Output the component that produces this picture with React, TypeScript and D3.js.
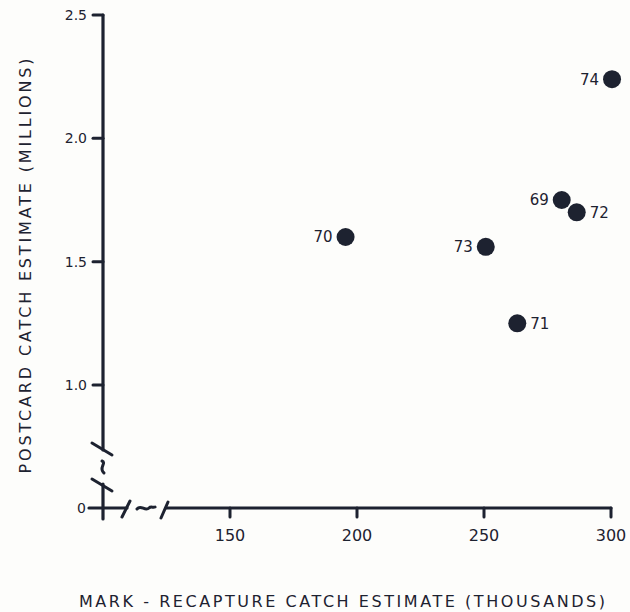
import * as d3 from "d3";
import React, { useEffect, useRef } from "react";

// data
const years = ["69", "70", "71", "72", "73", "74"];
const markRecapture = [280.6, 195.5, 263.1, 286.5, 250.7, 300.4]; // thousands
const postcard = [1.75, 1.6, 1.25, 1.7, 1.56, 2.24]; // millions
const labelSide = ["left", "left", "right", "right", "left", "left"];

const xTicks = [150, 200, 250, 300];
const xTickLabels = ["150", "200", "250", "300"];
const yTicks = [0, 1.0, 1.5, 2.0, 2.5];
const yTickLabels = ["0", "1.0", "1.5", "2.0", "2.5"];

const INK = "#1d2230";
const FONT = "'DejaVu Sans', sans-serif";

export default function App() {
  const ref = useRef<SVGSVGElement>(null);

  useEffect(() => {
    const svg = d3.select(ref.current);
    svg.selectAll("*").remove();

    svg.append("rect").attr("width", 630).attr("height", 612).attr("fill", "#fdfdfb");

    var x = d3.scaleLinear().domain([100, 300]).range([103, 611]);
    // broken axis: 0 sits one half-unit below 1.0
    var y = d3.scaleLinear().domain([0, 1.0, 2.5]).range([508, 385, 15]);

    var g = svg.append("g").attr("stroke", INK).attr("fill", "none").attr("stroke-linecap", "round");

    // y axis with break
    var x0 = x(100);
    g.append("line").attr("x1", x0).attr("x2", x0).attr("y1", y(2.5)).attr("y2", 450).attr("stroke-width", 3.2);
    g.append("line").attr("x1", x0).attr("x2", x0).attr("y1", 484).attr("y2", 519).attr("stroke-width", 3.2);
    g.append("line").attr("x1", x0 - 11).attr("y1", 443).attr("x2", x0 + 9).attr("y2", 455).attr("stroke-width", 3);
    g.append("line").attr("x1", x0 - 11).attr("y1", 479).attr("x2", x0 + 9).attr("y2", 491).attr("stroke-width", 3);
    g.append("path")
      .attr("d", `M${x0 - 1},461 C${x0 + 4},463 ${x0 - 5},468 ${x0 + 1},473`)
      .attr("stroke-width", 3);

    // x axis with break
    var y0 = y(0);
    g.append("line").attr("x1", 89).attr("x2", 127).attr("y1", y0).attr("y2", y0).attr("stroke-width", 3.2);
    g.append("line").attr("x1", 166).attr("x2", x(300)).attr("y1", y0).attr("y2", y0).attr("stroke-width", 3.2);
    g.append("line").attr("x1", 122).attr("y1", y0 + 9).attr("x2", 130).attr("y2", y0 - 7).attr("stroke-width", 3);
    g.append("line").attr("x1", 161).attr("y1", y0 + 10).attr("x2", 168).attr("y2", y0 - 6).attr("stroke-width", 3);
    g.append("path")
      .attr("d", `M137,${y0 + 1} C141,${y0 - 4} 145,${y0 + 4} 149,${y0} C151,${y0 - 2} 153,${y0} 155,${y0 - 1}`)
      .attr("stroke-width", 3);

    // y ticks
    g.selectAll(".yt")
      .data(yTicks.filter((d) => d > 0))
      .enter()
      .append("line")
      .attr("x1", x0 - 10)
      .attr("x2", x0)
      .attr("y1", (d) => y(d))
      .attr("y2", (d) => y(d))
      .attr("stroke-width", 3);

    // x ticks
    g.selectAll(".xt")
      .data(xTicks)
      .enter()
      .append("line")
      .attr("x1", (d) => x(d))
      .attr("x2", (d) => x(d))
      .attr("y1", y0)
      .attr("y2", y0 + 9)
      .attr("stroke-width", 3);

    var t = svg.append("g").attr("fill", INK).attr("font-family", FONT);

    t.selectAll(".yl")
      .data(yTicks)
      .enter()
      .append("text")
      .attr("x", (d) => (d === 0 ? 86 : 87))
      .attr("y", (d) => y(d))
      .attr("dy", "0.35em")
      .attr("text-anchor", "end")
      .attr("font-size", 14)
      .text((d, i) => yTickLabels[i]);

    t.selectAll(".xl")
      .data(xTicks)
      .enter()
      .append("text")
      .attr("x", (d) => x(d))
      .attr("y", 541)
      .attr("text-anchor", "middle")
      .attr("font-size", 16)
      .text((d, i) => xTickLabels[i]);

    // points
    var pts = svg.selectAll(".pt").data(years).enter().append("g");
    pts
      .append("circle")
      .attr("cx", (d, i) => x(markRecapture[i]))
      .attr("cy", (d, i) => y(postcard[i]))
      .attr("r", 9)
      .attr("fill", INK);
    pts
      .append("text")
      .attr("x", (d, i) => x(markRecapture[i]) + (labelSide[i] === "left" ? -13 : 13))
      .attr("y", (d, i) => y(postcard[i]))
      .attr("dy", "0.36em")
      .attr("text-anchor", (d, i) => (labelSide[i] === "left" ? "end" : "start"))
      .attr("font-family", FONT)
      .attr("font-size", 15)
      .attr("fill", INK)
      .text((d) => d);

    // axis titles
    t.append("text")
      .attr("transform", "translate(31,266) rotate(-90)")
      .attr("text-anchor", "middle")
      .attr("font-size", 16)
      .attr("textLength", 415)
      .attr("lengthAdjust", "spacing")
      .text("POSTCARD  CATCH  ESTIMATE   (MILLIONS)");

    t.append("text")
      .attr("x", 79)
      .attr("y", 607)
      .attr("font-size", 16)
      .attr("textLength", 526)
      .attr("lengthAdjust", "spacing")
      .text("MARK - RECAPTURE CATCH ESTIMATE (THOUSANDS)");
  }, []);

  return (
    <svg
      ref={ref}
      width={630}
      height={612}
      style={{ position: "absolute", left: 0, top: 0, display: "block" }}
    />
  );
}
